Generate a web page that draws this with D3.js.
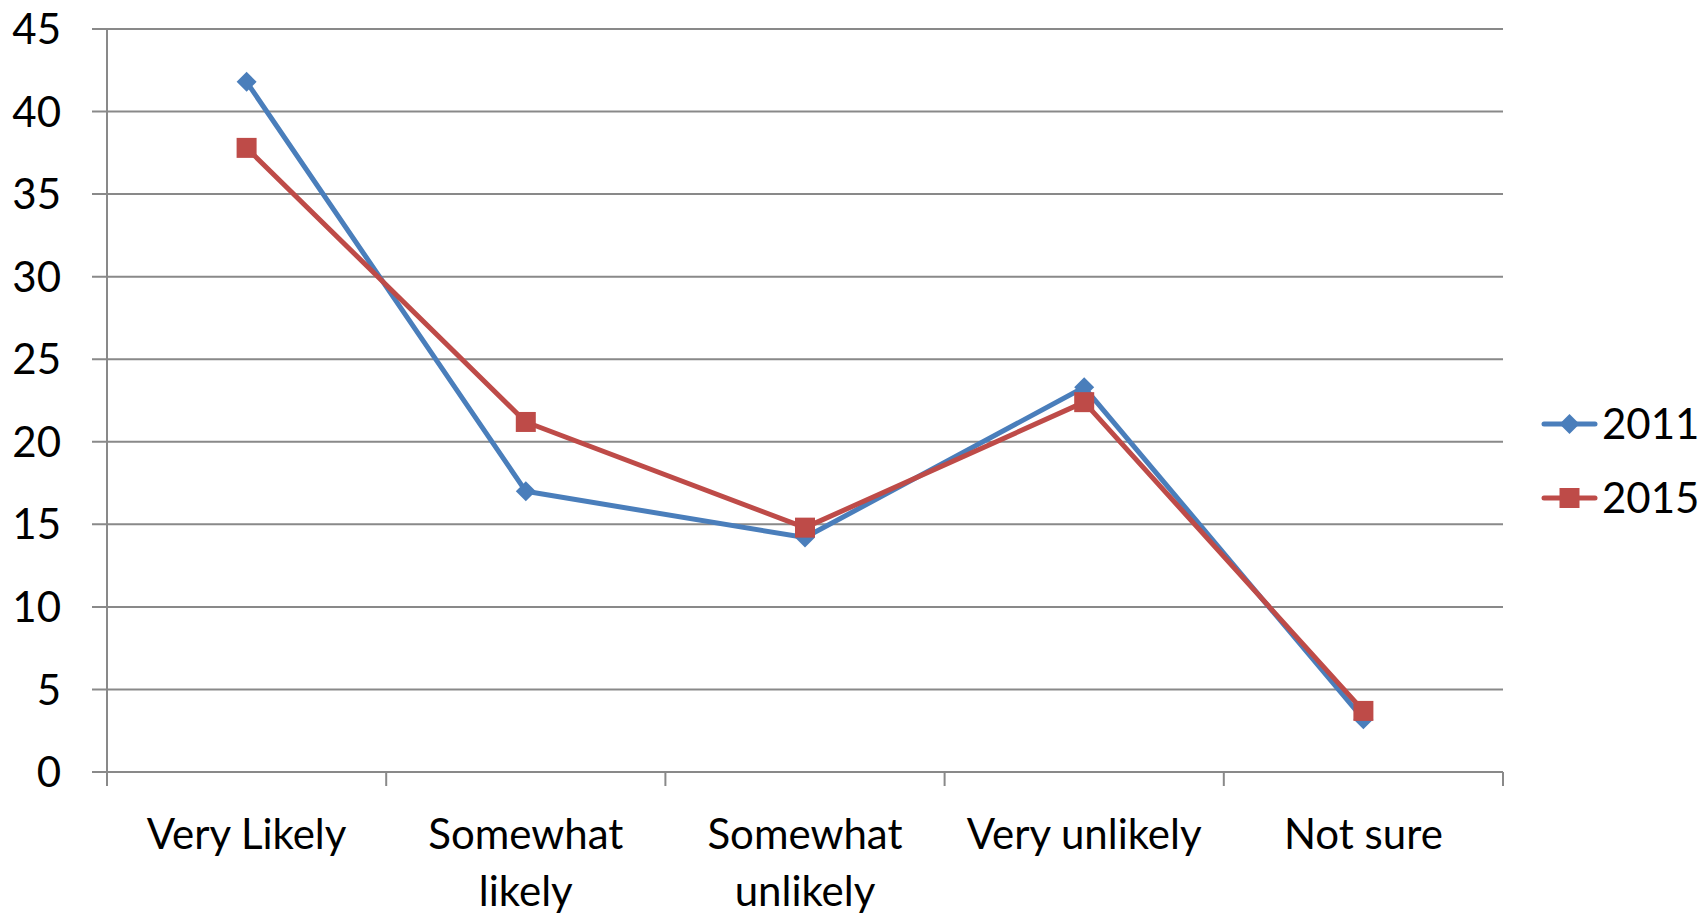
<!DOCTYPE html>
<html>
<head>
<meta charset="utf-8">
<script src="https://cdn.jsdelivr.net/npm/d3@7"></script>
<style>
  html, body { margin: 0; padding: 0; background: #fff; }
  svg text { font-family: Lato, "Open Sans", sans-serif; fill: #000; }
</style>
</head>
<body>
<svg id="chart" width="1702" height="915"></svg>
<script>
// Survey responses, percent of respondents
const categories = [["Very Likely"], ["Somewhat", "likely"], ["Somewhat", "unlikely"], ["Very unlikely"], ["Not sure"]];
const years = ["2011", "2015"];
const values2011 = [41.8, 17.0, 14.2, 23.3, 3.2];
const values2015 = [37.8, 21.2, 14.8, 22.4, 3.7];
const yTicks = [0, 5, 10, 15, 20, 25, 30, 35, 40, 45];

const colors = { "2011": "#4A7EBB", "2015": "#BE4B48" };
// diamonds are squares turned 45 degrees
const series = [
  { name: years[0], values: values2011, size: 200, rotate: 45 },
  { name: years[1], values: values2015, size: 400, rotate: 0 }
];

const svg = d3.select("#chart");
const plotLeft = 107, plotRight = 1503, plotTop = 29, plotBottom = 772;
const fontSize = 42;

const x = d3.scaleBand().domain(d3.range(categories.length)).range([plotLeft, plotRight]);
const y = d3.scaleLinear().domain([0, 45]).range([plotBottom, plotTop]);

// horizontal gridlines with left tick stubs
svg.append("g").selectAll("line").data(yTicks).join("line")
  .attr("x1", plotLeft - 15).attr("x2", plotRight)
  .attr("y1", d => y(d)).attr("y2", d => y(d))
  .attr("stroke", "#898989").attr("stroke-width", 2);

// vertical axis line
svg.append("line").attr("x1", plotLeft).attr("x2", plotLeft)
  .attr("y1", plotTop).attr("y2", plotBottom + 14)
  .attr("stroke", "#898989").attr("stroke-width", 2);

// category separator ticks below the axis
svg.append("g").selectAll("line").data(d3.range(1, categories.length + 1)).join("line")
  .attr("x1", i => plotLeft + i * x.step()).attr("x2", i => plotLeft + i * x.step())
  .attr("y1", plotBottom).attr("y2", plotBottom + 14)
  .attr("stroke", "#898989").attr("stroke-width", 2);

// y tick labels
svg.append("g").selectAll("text").data(yTicks).join("text")
  .attr("x", 61).attr("y", d => y(d))
  .attr("dy", "0.36em")
  .attr("text-anchor", "end")
  .style("font-size", fontSize + "px")
  .text(d => d);

// category labels, wrapped onto two lines where needed
const catLabels = svg.append("g").selectAll("text").data(categories).join("text")
  .attr("text-anchor", "middle")
  .style("font-size", fontSize + "px");
catLabels.selectAll("tspan").data((d, i) => d.map(s => ({ s, i }))).join("tspan")
  .attr("x", d => x(d.i) + x.bandwidth() / 2)
  .attr("y", (d, j) => 849 + j * 57)
  .text(d => d.s);

// series lines and markers
const line = d3.line()
  .x((d, i) => x(i) + x.bandwidth() / 2)
  .y(d => y(d));

series.forEach(s => {
  svg.append("path")
    .datum(s.values)
    .attr("d", line)
    .attr("fill", "none")
    .attr("stroke", colors[s.name])
    .attr("stroke-width", 5)
    .attr("stroke-linejoin", "round");
});
series.forEach(s => {
  svg.append("g").selectAll("path").data(s.values).join("path")
    .attr("transform", (d, i) => `translate(${x(i) + x.bandwidth() / 2},${y(d)}) rotate(${s.rotate})`)
    .attr("d", d3.symbol().type(d3.symbolSquare).size(s.size))
    .attr("fill", colors[s.name]);
});

// legend
const legendY = [424, 498];
series.forEach((s, k) => {
  const g = svg.append("g").attr("transform", `translate(0,${legendY[k]})`);
  g.append("line").attr("x1", 1544).attr("x2", 1595).attr("y1", 0).attr("y2", 0)
    .attr("stroke", colors[s.name]).attr("stroke-width", 5).attr("stroke-linecap", "round");
  g.append("path").attr("transform", `translate(1569.5,0) rotate(${s.rotate})`)
    .attr("d", d3.symbol().type(d3.symbolSquare).size(s.size))
    .attr("fill", colors[s.name]);
  g.append("text").attr("x", 1602).attr("y", 0).attr("dy", "0.36em")
    .style("font-size", fontSize + "px").text(s.name);
});
</script>
</body>
</html>
